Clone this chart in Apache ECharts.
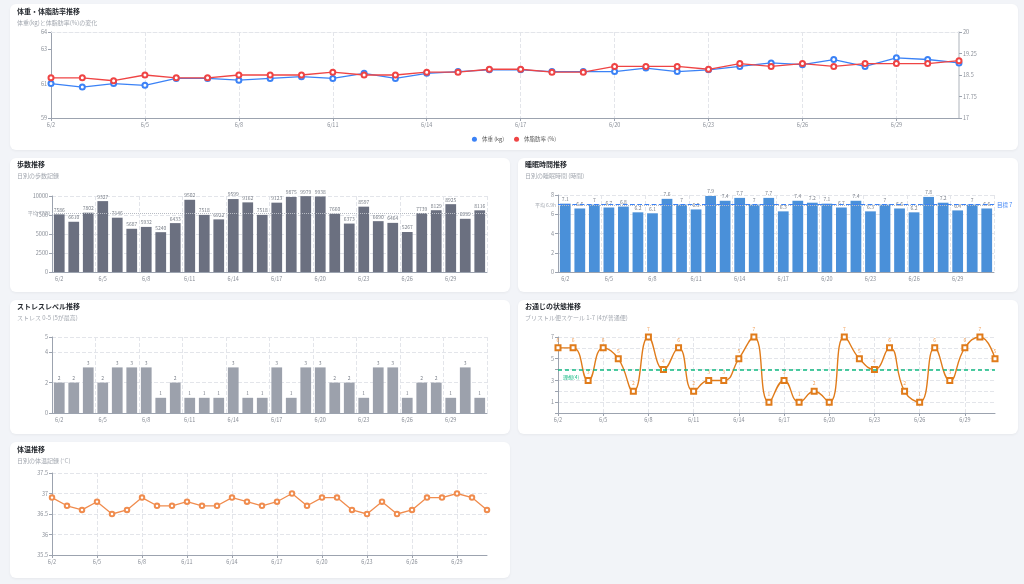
<!DOCTYPE html>
<html lang="ja">
<head>
<meta charset="utf-8">
<title>健康記録ダッシュボード</title>
<script src="https://cdn.jsdelivr.net/npm/echarts@6/dist/echarts.min.js"></script>
<style>
  html, body { margin: 0; padding: 0; background: #f2f4f8; width: 1024px; height: 584px; overflow: hidden; }
  .card { position: absolute; background: #fff; border-radius: 6px; box-shadow: 0 1px 3px rgba(0,0,0,0.05); }
  .card > div { width: 100%; height: 100%; }
</style>
</head>
<body>
<div class="card" style="left:10px;top:4px;width:1008px;height:146px"><div id="weight"></div></div>
<div class="card" style="left:10px;top:158px;width:500px;height:134px"><div id="steps"></div></div>
<div class="card" style="left:518px;top:158px;width:500px;height:134px"><div id="sleep"></div></div>
<div class="card" style="left:10px;top:300px;width:500px;height:134px"><div id="stress"></div></div>
<div class="card" style="left:518px;top:300px;width:500px;height:134px"><div id="stool"></div></div>
<div class="card" style="left:10px;top:442px;width:500px;height:136px"><div id="temp"></div></div>
<script>
let days = ['6/2','6/3','6/4','6/5','6/6','6/7','6/8','6/9','6/10','6/11','6/12','6/13','6/14','6/15','6/16',
            '6/17','6/18','6/19','6/20','6/21','6/22','6/23','6/24','6/25','6/26','6/27','6/28','6/29','6/30','7/1'];

let weight = [61.0, 60.8, 61.0, 60.9, 61.3, 61.3, 61.2, 61.3, 61.4, 61.3, 61.6, 61.3, 61.6, 61.7, 61.8,
              61.8, 61.7, 61.7, 61.7, 61.9, 61.7, 61.8, 62.0, 62.2, 62.1, 62.4, 62.0, 62.5, 62.4, 62.2];
let bodyFat = [18.4, 18.4, 18.3, 18.5, 18.4, 18.4, 18.5, 18.5, 18.5, 18.6, 18.5, 18.5, 18.6, 18.6, 18.7,
               18.7, 18.6, 18.6, 18.8, 18.8, 18.8, 18.7, 18.9, 18.8, 18.9, 18.8, 18.9, 18.9, 18.9, 19.0];
let steps = [7586, 6610, 7802, 9327, 7146, 5687, 5932, 5240, 6433, 9502, 7518, 6922, 9599, 9162, 7518,
             9123, 9875, 9979, 9938, 7660, 6373, 8597, 6690, 6464, 5267, 7739, 8129, 8925, 6999, 8116];
let sleep = [7.1, 6.6, 7, 6.7, 6.8, 6.2, 6.1, 7.6, 7, 6.5, 7.9, 7.4, 7.7, 7, 7.7,
             6.3, 7.4, 7.2, 7.1, 6.7, 7.4, 6.3, 7, 6.6, 6.2, 7.8, 7.2, 6.4, 7, 6.6];
let sleepGoal = 7;
let stress = [2, 2, 3, 2, 3, 3, 3, 1, 2, 1, 1, 1, 3, 1, 1, 3, 1, 3, 3, 2, 2, 1, 3, 3, 1, 2, 2, 1, 3, 1];
let stool = [6, 6, 3, 6, 5, 2, 7, 4, 6, 2, 3, 3, 5, 7, 1, 3, 1, 2, 1, 7, 5, 4, 6, 2, 1, 6, 3, 6, 7, 5];
let stoolIdeal = 4;
let temp = [36.9, 36.7, 36.6, 36.8, 36.5, 36.6, 36.9, 36.7, 36.7, 36.8, 36.7, 36.7, 36.9, 36.8, 36.7,
            36.8, 37.0, 36.7, 36.9, 36.9, 36.6, 36.5, 36.8, 36.5, 36.6, 36.9, 36.9, 37.0, 36.9, 36.6];

const FONT = '"Noto Sans CJK JP", "Noto Sans", sans-serif';
const LABEL = '#8a8f98';
const AXIS = '#9ca3af';
const GRIDLINE = '#e3e5ea';
const GREEN = '#10b981';

function head(text, sub, top) {
    return {
        text: text,
        subtext: sub,
        left: 7,
        top: top,
        padding: 0,
        itemGap: 5,
        textStyle: { fontFamily: FONT, fontSize: 7, fontWeight: 'bold', color: '#1f2329' },
        subtextStyle: { fontFamily: FONT, fontSize: 6, color: '#a3a8b0' }
    };
}

function dayAxis(bar) {
    return {
        type: 'category',
        data: days,
        boundaryGap: bar,
        axisLine: { lineStyle: { color: AXIS } },
        axisTick: { interval: 2, alignWithLabel: true, length: 3, lineStyle: { color: AXIS } },
        axisLabel: { interval: 2, fontSize: 5.5, color: LABEL, fontFamily: FONT, margin: 4 },
        splitLine: { show: true, interval: 2, lineStyle: { type: 'dashed', color: GRIDLINE } }
    };
}

function valAxis(min, max, interval, extra) {
    let ax = {
        type: 'value',
        min: min,
        max: max,
        interval: interval,
        axisLine: { show: true, lineStyle: { color: AXIS } },
        axisTick: { show: true, length: 3, lineStyle: { color: AXIS } },
        axisLabel: { fontSize: 5.5, color: LABEL, fontFamily: FONT, margin: 4, formatter: v => String(v) },
        splitLine: { show: true, lineStyle: { type: 'dashed', color: GRIDLINE } }
    };
    return Object.assign(ax, extra || {});
}

function barLabel() {
    return { show: true, position: 'top', distance: 2, fontSize: 5, color: '#7b808a', fontFamily: FONT };
}

let charts = [];
function make(id, option) {
    let c = echarts.init(document.getElementById(id));
    option.animation = false;
    option.textStyle = { fontFamily: FONT };
    c.setOption(option);
    charts.push(c);
}

// 体重・体脂肪率
make('weight', {
    title: head('体重・体脂肪率推移', '体重(kg)と体脂肪率(%)の変化', 4),
    grid: { left: 41, right: 59, top: 28, bottom: 32 },
    legend: {
        bottom: 3,
        icon: 'circle',
        itemWidth: 5,
        itemHeight: 5,
        itemGap: 10,
        textStyle: { fontSize: 5.5, color: '#555', fontFamily: FONT }
    },
    xAxis: [
        dayAxis(false),
        { type: 'category', data: days, position: 'top', boundaryGap: false,
          axisLine: { show: true, lineStyle: { type: 'dashed', color: GRIDLINE } },
          axisTick: { show: false }, axisLabel: { show: false }, splitLine: { show: false } }
    ],
    yAxis: [
        valAxis(59, 64, 2, { splitLine: { show: false } }),
        valAxis(17, 20, 0.75, { position: 'right', splitLine: { show: false },
            axisLine: { show: true, lineStyle: { color: '#c8ccd2', width: 1.5 } } })
    ],
    series: [
        { name: '体重 (kg)', type: 'line', data: weight, yAxisIndex: 0,
          symbol: 'emptyCircle', symbolSize: 5, color: '#3b82f6',
          lineStyle: { width: 1.3 }, itemStyle: { borderWidth: 1.1 } },
        { name: '体脂肪率 (%)', type: 'line', data: bodyFat, yAxisIndex: 1,
          symbol: 'emptyCircle', symbolSize: 5, color: '#ef4444',
          lineStyle: { width: 1.3 }, itemStyle: { borderWidth: 1.1 } }
    ]
});

// 歩数
make('steps', {
    title: head('歩数推移', '日別の歩数記録', 3),
    grid: { left: 42, right: 23, top: 38, bottom: 20 },
    xAxis: dayAxis(true),
    yAxis: valAxis(0, 10000, 2500),
    series: [{
        type: 'bar', data: steps, barWidth: '74%', color: '#6b7080',
        label: barLabel(),
        markLine: {
            symbol: 'none', silent: true,
            data: [{
                type: 'average',
                lineStyle: { type: 'dotted', color: '#b8bcc4', width: 1 },
                label: { position: 'start', fontSize: 5, color: '#a3a8b0', distance: 2,
                         formatter: p => '平均 ' + Math.round(p.value) }
            }]
        }
    }]
});

// 睡眠時間
make('sleep', {
    title: head('睡眠時間推移', '日別の睡眠時間 (時間)', 3),
    grid: { left: 40, right: 24, top: 37, bottom: 20 },
    xAxis: dayAxis(true),
    yAxis: valAxis(0, 8, 2),
    series: [{
        type: 'bar', data: sleep, barWidth: '74%', color: '#4a90d9',
        label: barLabel(),
        markLine: {
            symbol: 'none', silent: true,
            data: [
                { type: 'average',
                  lineStyle: { type: 'dotted', color: '#b8bcc4', width: 1 },
                  label: { position: 'start', fontSize: 5, color: '#a3a8b0', distance: 2,
                           formatter: p => '平均 ' + (Math.floor(p.value * 10) / 10).toFixed(1) + 'h' } },
                { yAxis: sleepGoal,
                  lineStyle: { type: 'dashed', color: '#3b82f6', width: 1.2 },
                  label: { position: 'end', fontSize: 5.5, color: '#3b82f6', distance: 3,
                           formatter: '目標 ' + sleepGoal } }
            ]
        }
    }]
});

// ストレス
make('stress', {
    title: head('ストレスレベル推移', 'ストレス 0-5 (5が最高)', 3),
    grid: { left: 42, right: 23, top: 37, bottom: 21 },
    xAxis: dayAxis(true),
    yAxis: valAxis(0, 5, 2),
    series: [{
        type: 'bar', data: stress, barWidth: '74%', color: '#9ca1ac',
        label: barLabel()
    }]
});

// お通じ
make('stool', {
    title: head('お通じの状態推移', 'ブリストル便スケール 1-7 (4が普通便)', 3),
    grid: { left: 40, right: 23, top: 37, bottom: 21 },
    xAxis: dayAxis(false),
    yAxis: valAxis(0, 7, 1, {
        axisLabel: { fontSize: 5.5, color: LABEL, fontFamily: FONT, margin: 4,
                     formatter: v => (v % 2 === 1 ? String(v) : '') }
    }),
    series: [{
        type: 'line', data: stool, smooth: true, color: '#e07b1a',
        symbol: 'emptyRect', symbolSize: 5,
        lineStyle: { width: 1.4 }, itemStyle: { borderWidth: 1 },
        label: { show: true, position: 'top', distance: 2, fontSize: 5, color: '#f2a25c' },
        markLine: {
            symbol: 'none', silent: true, z: 10,
            lineStyle: { type: [4, 3], color: GREEN, width: 1.5, opacity: 1 },
            label: { position: 'insideStartBottom', fontSize: 5, color: GREEN,
                     formatter: '理想(' + stoolIdeal + ')' },
            data: [{ yAxis: stoolIdeal }]
        }
    }]
});

// 体温
make('temp', {
    title: head('体温推移', '日別の体温記録 (°C)', 4),
    grid: { left: 42, right: 23, top: 31, bottom: 23 },
    xAxis: dayAxis(false),
    yAxis: valAxis(35.5, 37.5, 0.5),
    series: [{
        type: 'line', data: temp, color: '#f08c4e',
        symbol: 'emptyCircle', symbolSize: 4.5,
        lineStyle: { width: 1.3 }, itemStyle: { borderWidth: 1.1 }
    }]
});

window.onresize = () => { charts.forEach(c => c.resize()); };
</script>
</body>
</html>
